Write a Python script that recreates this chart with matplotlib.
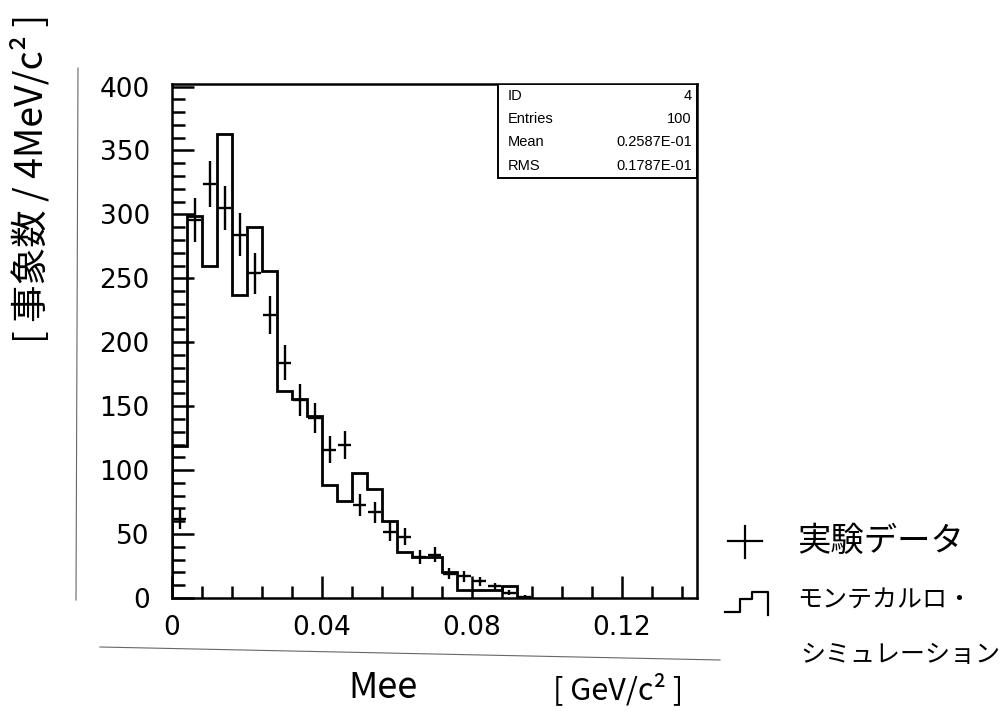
import numpy as np
import matplotlib.pyplot as plt
from matplotlib.lines import Line2D
from matplotlib.patches import Rectangle

# histogram: 4 MeV/c^2 bins starting at Mee = 0
bin_width = 0.004
data_counts = [62, 296, 324, 305, 284, 254, 221, 184, 155, 141, 116, 120,
               73, 67, 52, 48, 32, 34, 19, 17, 13, 9, 4, 1]
mc_counts = [119, 299, 260, 363, 237, 290, 256, 162, 156, 142, 88, 76,
             98, 85, 60, 36, 32, 32, 20, 6, 6, 6, 9]

stats_names = ["ID", "Entries", "Mean", "RMS"]
stats_values = ["4", "100", "0.2587E-01", "0.1787E-01"]

x_ticks = [0, 0.04, 0.08, 0.12]
x_ticklabels = ["0", "0.04", "0.08", "0.12"]
y_ticks = [0, 50, 100, 150, 200, 250, 300, 350, 400]

jp = ['Noto Sans CJK JP', 'DejaVu Sans']
num_font = ['DejaVu Sans']

W, H = 1008, 711
fig = plt.figure(figsize=(W / 100, H / 100), dpi=100)
ax = fig.add_axes([172 / W, 1 - 598 / H, (697 - 172) / W, (598 - 84) / H])

# monte carlo histogram (step outline)
edges = np.arange(len(mc_counts) + 1) * bin_width
ax.stairs(mc_counts, edges, baseline=0, color='black', lw=2.0)

# experimental data with poisson errors
data = np.array(data_counts, dtype=float)
centers = (np.arange(len(data)) + 0.5) * bin_width
ax.errorbar(centers, data, xerr=bin_width / 2 * 0.9, yerr=np.sqrt(data),
            fmt='none', ecolor='black', elinewidth=1.7, capsize=0)

ax.set_xlim(0, 0.14)
ax.set_ylim(0, 402)
ax.set_xticks(x_ticks)
ax.set_xticklabels(x_ticklabels)
ax.set_xticks(np.arange(0, 0.1401, 0.008), minor=True)
ax.set_yticks(y_ticks)
ax.set_yticks(np.arange(0, 401, 10), minor=True)
ax.tick_params(which='both', direction='in', top=False, right=False,
               width=1.8, colors='black')
ax.tick_params(which='major', length=16, labelsize=19)
ax.tick_params(which='minor', length=9)
ax.tick_params(axis='y', which='major', pad=16)
ax.tick_params(axis='x', which='major', pad=12)
for lab in ax.get_xticklabels() + ax.get_yticklabels():
    lab.set_family(num_font)
for sp in ax.spines.values():
    sp.set_linewidth(1.8)

# statistics box (top right, PAW style)
box_left, box_bottom = 0.62, 0.818
ax.add_patch(Rectangle((box_left, box_bottom), 1 - box_left, 1 - box_bottom,
                       transform=ax.transAxes, facecolor='white',
                       edgecolor='black', lw=1.4, zorder=5))
row_h = (1 - box_bottom) / len(stats_names)
for i, (name, val) in enumerate(zip(stats_names, stats_values)):
    yy = 1 - (i + 0.5) * row_h
    ax.text(box_left + 0.02, yy, name, transform=ax.transAxes, ha='left',
            va='center', fontsize=10.5, family='Liberation Sans', zorder=6)
    ax.text(0.99, yy, val, transform=ax.transAxes, ha='right',
            va='center', fontsize=10.5, family='Liberation Sans', zorder=6)

# axis titles (hand written on the original)
fig.text(32 / W, 1 - 178 / H, "[ 事象数 / 4MeV/c² ]", rotation=90,
         ha='center', va='center', fontsize=27, family=jp)
fig.text(383 / W, 1 - 688 / H, "Mee", ha='center', va='center',
         fontsize=26, family=jp)
fig.text(618 / W, 1 - 690 / H, "[ GeV/c² ]", ha='center', va='center',
         fontsize=22, family=jp)

# legend drawn beside the frame
def fig_line(xs, ys, **kw):
    fig.add_artist(Line2D([x / W for x in xs], [1 - y / H for y in ys],
                          transform=fig.transFigure, color='black', **kw))

fig_line([728, 762], [541, 541], lw=1.6)
fig_line([745, 745], [526, 558], lw=1.6)
fig.text(797 / W, 1 - 541 / H, "実験データ", ha='left', va='center',
         fontsize=24, family=jp)

fig_line([725, 740, 740, 752, 752, 768, 768], [612, 612, 599, 599, 592, 592, 615],
         lw=1.6)
fig.text(797 / W, 1 - 600 / H, "モンテカルロ・", ha='left', va='center',
         fontsize=18, family=jp)
fig.text(800 / W, 1 - 655 / H, "シミュレーション", ha='left', va='center',
         fontsize=18, family=jp)

# edges of the pasted paper
fig_line([78, 76], [68, 600], lw=0.8, alpha=0.6)
fig_line([100, 720], [647, 660], lw=0.8, alpha=0.6)

fig.savefig("out.png", dpi=100)
